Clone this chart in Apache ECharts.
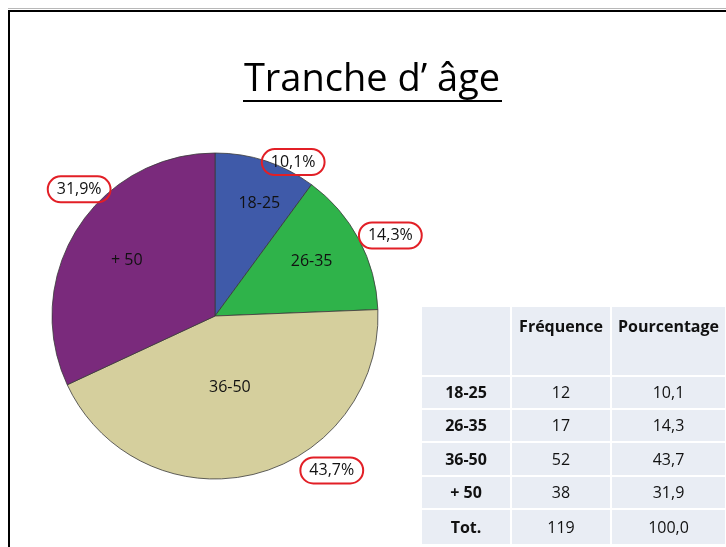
<!DOCTYPE html>
<html>
<head>
<meta charset="utf-8">
<script src="https://cdn.jsdelivr.net/npm/echarts@6/dist/echarts.min.js"></script>
<style>
  html, body { margin: 0; padding: 0; background: #fff; }
  #chart { width: 726px; height: 547px; }
</style>
</head>
<body>
<div id="chart"></div>
<script>
// data
const categories = ['18-25', '26-35', '36-50', '+ 50'];
const frequencies = [12, 17, 52, 38];
const percentages = [10.1, 14.3, 43.7, 31.9];
const totalLabel = 'Tot.';
const totalFrequency = 119;
const totalPercentage = 100.0;
const headerLabels = ['', 'Fréquence', 'Pourcentage'];
const titleText = 'Tranche d\u2019 âge';

const sliceColors = ['#3f5aa9', '#2fb34a', '#d5cf9d', '#7a2a7c'];
const FONT = '"Open Sans", sans-serif';

// nudges for labels, to sit where the slide had them
const innerShift = [[18, -32], [22, -15], [-5, -11], [-17, -10]];
const pctShift = [[-4, 1], [0, -4], [47, -4], [33, -39]];

const fmt = v => v.toFixed(1).replace('.', ',');

const chart = echarts.init(document.getElementById('chart'), null, { renderer: 'canvas' });

// table cells
const tableLeft = 421, tableTop = 306;
const colWidths = [90, 100, 115];
const rowHeights = [70, 33, 33, 34, 33, 36];
const rows = [headerLabels];
categories.forEach((c, i) => rows.push([c, String(frequencies[i]), fmt(percentages[i])]));
rows.push([totalLabel, String(totalFrequency), fmt(totalPercentage)]);

const graphics = [];
let y = tableTop;
rows.forEach((row, r) => {
  let x = tableLeft;
  row.forEach((cell, c) => {
    const w = colWidths[c], h = rowHeights[r];
    graphics.push({
      type: 'rect', silent: true,
      shape: { x: x + 1, y: y + 1, width: w - 2, height: h - 2 },
      style: { fill: '#e9edf4' }
    });
    if (cell) {
      graphics.push({
        type: 'text', silent: true,
        style: {
          text: cell,
          x: x + w / 2,
          y: r === 0 ? y + 21 : y + h / 2 + 1,
          align: 'center', verticalAlign: 'middle',
          fill: '#111',
          font: ((r === 0 || c === 0) ? 'bold ' : '') + '16px ' + FONT
        }
      });
    }
    x += w;
  });
  y += rowHeights[r];
});

// frame + title
graphics.push(
  { type: 'rect', silent: true, shape: { x: 8, y: 8, width: 718, height: 1 }, style: { fill: '#b8b8b8' } },
  { type: 'polyline', silent: true, shape: { points: [[9, 547], [9, 11], [726, 11]] },
    style: { stroke: '#000', lineWidth: 2, fill: null } },
  { type: 'text', silent: true,
    style: { text: titleText, x: 372, y: 80, align: 'center', verticalAlign: 'middle',
      fill: '#000', font: '38px ' + FONT } },
  { type: 'rect', silent: true, shape: { x: 243, y: 100, width: 259, height: 2 }, style: { fill: '#000' } }
);

const pieData = categories.map((c, i) => ({
  name: c, value: frequencies[i], pct: percentages[i],
  itemStyle: { color: sliceColors[i] }
}));

const option = {
  animation: false,
  backgroundColor: '#fff',
  series: [
    {
      type: 'pie',
      center: [215, 316],
      radius: 163,
      startAngle: 90,
      clockwise: true,
      avoidLabelOverlap: false,
      silent: true,
      itemStyle: { borderColor: '#3a3a3a', borderWidth: 0.8 },
      label: {
        show: true, position: 'inside',
        formatter: '{b}', color: '#111', fontSize: 16, fontFamily: FONT
      },
      labelLayout: p => ({ dx: innerShift[p.dataIndex][0], dy: innerShift[p.dataIndex][1] }),
      data: pieData
    },
    {
      type: 'pie',
      center: [215, 316],
      radius: 163,
      startAngle: 90,
      clockwise: true,
      avoidLabelOverlap: false,
      silent: true,
      z: 3,
      itemStyle: { color: 'transparent', borderWidth: 0 },
      labelLine: { show: false, length: 0, length2: 0 },
      label: {
        show: true, position: 'outside', distanceToLabelLine: 0,
        formatter: p => fmt(p.data.pct) + '%',
        color: '#111', fontSize: 16, fontFamily: FONT,
        padding: [5, 9], borderColor: '#e21f26', borderWidth: 2, borderRadius: 15
      },
      labelLayout: p => ({ dx: pctShift[p.dataIndex][0], dy: pctShift[p.dataIndex][1] }),
      data: pieData.map(d => ({ name: d.name, value: d.value, pct: d.pct }))
    }
  ],
  graphic: graphics
};

chart.setOption(option);
</script>
</body>
</html>
